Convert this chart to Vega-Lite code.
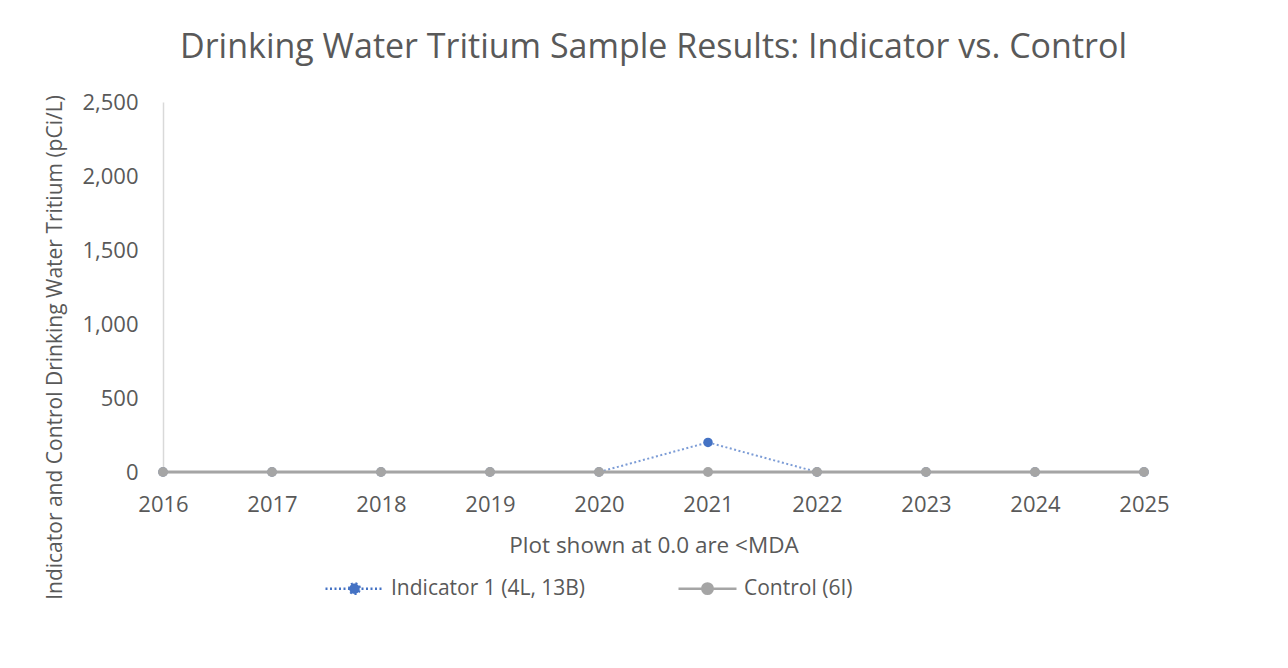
{
  "$schema": "https://vega.github.io/schema/vega-lite/v6.json",
  "width": 981,
  "height": 370,
  "autosize": {"type": "none"},
  "padding": {"left": 163, "top": 102, "right": 144, "bottom": 196},
  "background": "white",
  "title": {
    "text": "Drinking Water Tritium Sample Results: Indicator vs. Control",
    "font": "Open Sans",
    "fontSize": 34,
    "fontWeight": "normal",
    "color": "#595959",
    "anchor": "middle",
    "frame": "group",
    "offset": 26
  },
  "data": {
    "values": [
      {"year": 2016, "series": "Indicator 1 (4L, 13B)", "value": 0},
      {"year": 2017, "series": "Indicator 1 (4L, 13B)", "value": 0},
      {"year": 2018, "series": "Indicator 1 (4L, 13B)", "value": 0},
      {"year": 2019, "series": "Indicator 1 (4L, 13B)", "value": 0},
      {"year": 2020, "series": "Indicator 1 (4L, 13B)", "value": 0},
      {"year": 2021, "series": "Indicator 1 (4L, 13B)", "value": 200},
      {"year": 2022, "series": "Indicator 1 (4L, 13B)", "value": 0},
      {"year": 2023, "series": "Indicator 1 (4L, 13B)", "value": 0},
      {"year": 2024, "series": "Indicator 1 (4L, 13B)", "value": 0},
      {"year": 2025, "series": "Indicator 1 (4L, 13B)", "value": 0},
      {"year": 2016, "series": "Control (6I)", "value": 0},
      {"year": 2017, "series": "Control (6I)", "value": 0},
      {"year": 2018, "series": "Control (6I)", "value": 0},
      {"year": 2019, "series": "Control (6I)", "value": 0},
      {"year": 2020, "series": "Control (6I)", "value": 0},
      {"year": 2021, "series": "Control (6I)", "value": 0},
      {"year": 2022, "series": "Control (6I)", "value": 0},
      {"year": 2023, "series": "Control (6I)", "value": 0},
      {"year": 2024, "series": "Control (6I)", "value": 0},
      {"year": 2025, "series": "Control (6I)", "value": 0}
    ]
  },
  "encoding": {
    "x": {
      "field": "year",
      "type": "ordinal",
      "scale": {"type": "point", "padding": 0},
      "axis": {
        "labelAngle": 0,
        "labelFontSize": 22,
        "labelPadding": 22,
        "title": "Plot shown at 0.0 are <MDA",
        "titleFontSize": 22.5,
        "titlePadding": 19,
        "domain": true
      }
    },
    "y": {
      "field": "value",
      "type": "quantitative",
      "scale": {"domain": [0, 2500], "nice": false},
      "axis": {
        "values": [0, 500, 1000, 1500, 2000, 2500],
        "format": ",d",
        "labelFontSize": 22,
        "labelPadding": 25,
        "title": "Indicator and Control Drinking Water Tritium (pCi/L)",
        "titleFontSize": 21,
        "titleX": -108,
        "titleY": 245,
        "titleBaseline": "middle",
        "titleAlign": "center",
        "domain": true
      }
    },
    "color": {
      "field": "series",
      "type": "nominal",
      "scale": {
        "domain": ["Indicator 1 (4L, 13B)", "Control (6I)"],
        "range": ["#4472C4", "#A5A5A5"]
      },
      "legend": {
        "title": null,
        "orient": "none",
        "legendX": 161,
        "legendY": 456,
        "direction": "horizontal",
        "padding": 0,
        "symbolType": "M-1,0L1,0M-0.18,0A0.18,0.18,0,1,1,0.18,0A0.18,0.18,0,1,1,-0.18,0Z",
        "symbolSize": 3364,
        "symbolStrokeWidth": 2.5,
        "labelFont": "Open Sans",
        "labelFontSize": 21,
        "labelColor": "#595959",
        "labelOffset": 6,
        "labelLimit": 400,
        "columnPadding": 87,
        "encode": {
          "symbols": {
            "update": {
              "fill": {"scale": "color", "field": "value"},
              "fillOpacity": {"value": 1},
              "strokeDash": {"signal": "datum.value === 'Control (6I)' ? [] : [2, 2.5]"}
            }
          }
        }
      }
    }
  },
  "layer": [
    {
      "transform": [{"filter": "datum.series === 'Indicator 1 (4L, 13B)'"}],
      "mark": {"type": "line", "strokeWidth": 2, "strokeDash": [2, 2.5], "opacity": 0.7}
    },
    {
      "transform": [{"filter": "datum.series === 'Indicator 1 (4L, 13B)'"}],
      "mark": {"type": "point", "filled": true, "size": 90, "opacity": 1}
    },
    {
      "transform": [{"filter": "datum.series === 'Control (6I)'"}],
      "mark": {"type": "line", "strokeWidth": 3}
    },
    {
      "transform": [{"filter": "datum.series === 'Control (6I)'"}],
      "mark": {"type": "point", "filled": true, "size": 100, "opacity": 1}
    }
  ],
  "config": {
    "view": {"stroke": null},
    "axis": {
      "labelFont": "Open Sans",
      "labelColor": "#595959",
      "titleFont": "Open Sans",
      "titleColor": "#595959",
      "titleFontWeight": "normal",
      "grid": false,
      "ticks": false,
      "domainColor": "#D9D9D9",
      "domainWidth": 1.5
    }
  }
}
